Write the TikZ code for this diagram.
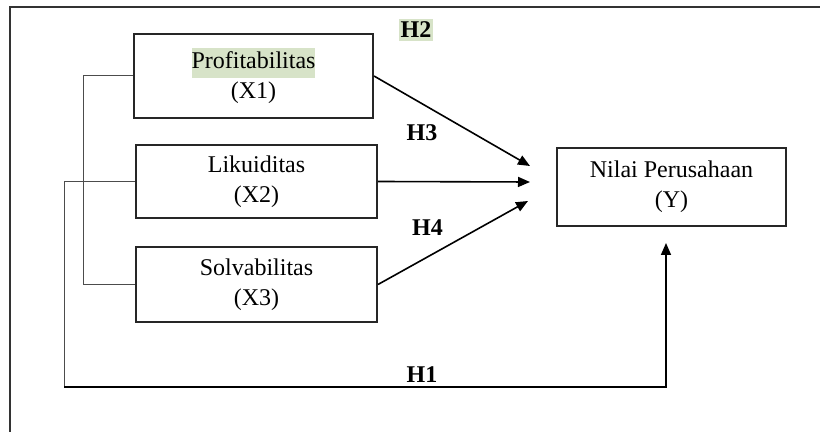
\documentclass[tikz,border=0pt]{standalone}
\usepackage{fontspec}
\setmainfont{Liberation Serif}
\usetikzlibrary{arrows.meta}
\definecolor{hlgreen}{RGB}{215,227,200}
\begin{document}
\begin{tikzpicture}[x=0.5pt,y=-0.5pt,
		var/.style={draw=black!85,line width=1pt,align=center,inner sep=0pt,font=\fontsize{12}{15}\selectfont},
		hyp/.style={font=\fontsize{12}{14}\selectfont\bfseries,inner sep=1pt},
		link/.style={draw=black!70,line width=0.5pt},
		arr/.style={line width=0.8pt,-{Triangle[length=6pt,width=5pt]}}]
		\clip (0,0) rectangle (820,432);
		\draw [black!80,line width=1pt] (10,7) rectangle (840,450);
		% variabel
		\node [var,minimum width=119.5pt,minimum height=42pt] (x1) at (253.5,76) {\setlength\fboxsep{0pt}\colorbox{hlgreen}{\strut Profitabilitas}\\(X1)};
		\node [var,minimum width=120.5pt,minimum height=36.5pt] (x2) at (256.5,181.5) {Likuiditas\\(X2)};
		\node [var,minimum width=120.5pt,minimum height=37.5pt] (x3) at (256.5,284.5) {Solvabilitas\\(X3)};
		\node [var,minimum width=114.5pt,minimum height=39pt] (y) at (671.5,187) {Nilai Perusahaan\\(Y)};
		% ujung panah
		\coordinate (t1) at (530,166);
		\coordinate (t2) at (530,182);
		\coordinate (t3) at (528,201);
		\coordinate (brk) at (83,284.5);
		\coordinate (h1c) at (64,387);
		\coordinate (h1end) at (666,243);
		% garis
		\draw [link] (x1.west) -| (brk) -- (x3.west);
		\draw [link] (x2.west) -| (h1c);
		\draw [arr] (h1c) -| (h1end);
		\draw [arr] (x1.east) -- (t1);
		\draw [arr] (x2.east) -- (t2);
		\draw [arr] (x3.east) -- (t3);
		% hipotesis
		\node [hyp,fill=hlgreen,inner ysep=1.5pt] (h2) at (416,30) {H2};
		\node [hyp] (h3) at (422,132.5) {H3};
		\node [hyp] (h4) at (427.5,228) {H4};
		\node [hyp] (h1) at (422,375) {H1};
	\end{tikzpicture}
\end{document}
